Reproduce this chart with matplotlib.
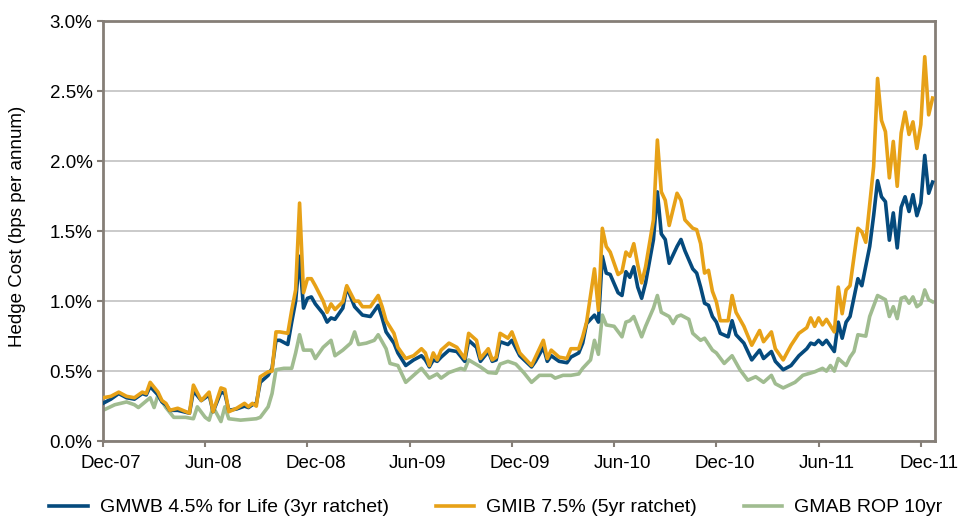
import matplotlib
matplotlib.use('agg')
import matplotlib.pyplot as plt
import matplotlib.transforms as mtransforms
from matplotlib.ticker import FuncFormatter, MultipleLocator

plt.rcParams['font.family'] = ['Liberation Sans', 'DejaVu Sans']

# weekly index (week 0 = first week of Dec-07), values in % per annum
gmib_weeks = [0, 2, 4, 6, 8, 10, 11, 12, 14, 15, 16, 17, 19, 22, 23, 25, 27, 28, 30, 31,
              32, 34, 36, 37, 38, 39, 40, 42, 43, 44, 45, 47, 48, 49, 50, 51, 52, 53, 54, 56,
              57, 58, 59, 61, 62, 64, 65, 66, 68, 70, 71, 72, 74, 75, 77, 79, 81, 82, 83, 84,
              85, 86, 88, 90, 92, 93, 95, 96, 98, 99, 100, 101, 103, 104, 106, 109, 110, 112, 113, 114,
              116, 118, 119, 121, 122, 123, 125, 126, 127, 128, 129, 131, 132, 133, 134, 135, 136, 137, 138, 140,
              141, 142, 143, 144, 146, 147, 148, 150, 151, 152, 153, 154, 155, 156, 157, 159, 160, 161, 163, 165,
              167, 168, 170, 171, 173, 175, 177, 179, 180, 181, 182, 183, 184, 186, 187, 188, 189, 190, 192, 193,
              194, 196, 197, 198, 199, 200, 201, 202, 203, 204, 205, 206, 207, 208, 209, 210, 211]
gmib = [0.31, 0.32, 0.35, 0.32, 0.31, 0.35, 0.34, 0.42, 0.35, 0.29, 0.27, 0.22, 0.235, 0.20, 0.40, 0.29, 0.35, 0.21, 0.38, 0.37,
        0.21, 0.235, 0.27, 0.245, 0.27, 0.25, 0.46, 0.495, 0.50, 0.78, 0.78, 0.77, 0.935, 1.08, 1.70, 1.06, 1.16, 1.16, 1.11, 1.00,
        0.92, 0.98, 0.94, 0.995, 1.11, 1.00, 1.00, 0.96, 0.96, 1.04, 0.96, 0.86, 0.77, 0.67, 0.59, 0.61, 0.66, 0.63, 0.54, 0.63,
        0.58, 0.65, 0.70, 0.67, 0.59, 0.77, 0.72, 0.59, 0.66, 0.58, 0.60, 0.77, 0.735, 0.78, 0.63, 0.54, 0.60, 0.72, 0.59, 0.65,
        0.60, 0.59, 0.66, 0.66, 0.745, 0.85, 1.23, 0.935, 1.52, 1.39, 1.35, 1.19, 1.21, 1.35, 1.32, 1.41, 1.26, 1.13, 1.245, 1.58,
        2.15, 1.78, 1.72, 1.54, 1.77, 1.72, 1.58, 1.52, 1.51, 1.41, 1.20, 1.22, 1.07, 0.995, 0.86, 0.86, 1.04, 0.92, 0.82, 0.685,
        0.79, 0.71, 0.78, 0.66, 0.58, 0.685, 0.77, 0.81, 0.88, 0.82, 0.88, 0.83, 0.87, 0.78, 1.10, 0.91, 1.08, 1.11, 1.52, 1.495,
        1.42, 1.96, 2.59, 2.29, 2.21, 1.88, 2.14, 1.82, 2.20, 2.35, 2.19, 2.28, 2.09, 2.26, 2.745, 2.33, 2.45]

gmwb_weeks = [0, 2, 4, 6, 8, 10, 11, 12, 14, 15, 16, 17, 19, 22, 23, 25, 27, 28, 30, 31,
              32, 34, 36, 37, 38, 39, 40, 42, 43, 44, 45, 47, 48, 49, 50, 51, 52, 53, 54, 56,
              57, 58, 59, 61, 62, 64, 65, 66, 68, 70, 71, 72, 74, 75, 77, 79, 81, 82, 83, 84,
              85, 86, 88, 90, 92, 93, 95, 96, 98, 99, 100, 101, 103, 104, 106, 109, 110, 112, 113, 114,
              116, 118, 119, 121, 122, 123, 125, 126, 127, 128, 129, 131, 132, 133, 134, 135, 136, 137, 138, 140,
              141, 142, 143, 144, 146, 147, 148, 150, 151, 152, 153, 154, 155, 156, 157, 159, 160, 161, 163, 165,
              167, 168, 170, 171, 173, 175, 177, 179, 180, 181, 182, 183, 184, 186, 187, 188, 189, 190, 192, 193,
              195, 196, 197, 198, 199, 200, 201, 202, 203, 204, 205, 206, 207, 208, 209, 210, 211]
gmwb = [0.27, 0.30, 0.34, 0.31, 0.30, 0.34, 0.33, 0.39, 0.33, 0.28, 0.26, 0.22, 0.22, 0.20, 0.36, 0.29, 0.33, 0.21, 0.35, 0.34,
        0.22, 0.23, 0.25, 0.24, 0.26, 0.27, 0.42, 0.47, 0.52, 0.72, 0.72, 0.69, 0.85, 1.00, 1.32, 0.95, 1.02, 1.03, 0.98, 0.91,
        0.85, 0.88, 0.87, 0.95, 1.10, 0.96, 0.93, 0.90, 0.89, 0.97, 0.88, 0.78, 0.70, 0.63, 0.54, 0.58, 0.61, 0.58, 0.53, 0.58,
        0.57, 0.60, 0.65, 0.64, 0.57, 0.72, 0.67, 0.57, 0.64, 0.57, 0.58, 0.71, 0.69, 0.72, 0.61, 0.53, 0.57, 0.67, 0.57, 0.61,
        0.57, 0.56, 0.60, 0.63, 0.70, 0.84, 0.90, 0.85, 1.32, 1.20, 1.19, 1.06, 1.04, 1.21, 1.17, 1.245, 1.10, 1.02, 1.13, 1.44,
        1.78, 1.48, 1.44, 1.27, 1.39, 1.44, 1.36, 1.23, 1.20, 1.10, 0.985, 0.97, 0.89, 0.85, 0.77, 0.745, 0.86, 0.76, 0.70, 0.58,
        0.65, 0.59, 0.64, 0.57, 0.51, 0.54, 0.61, 0.66, 0.70, 0.69, 0.72, 0.69, 0.72, 0.64, 0.85, 0.735, 0.85, 0.89, 1.16, 1.11,
        1.39, 1.61, 1.86, 1.745, 1.71, 1.435, 1.63, 1.38, 1.67, 1.745, 1.64, 1.76, 1.61, 1.70, 2.04, 1.77, 1.85]

gmab_weeks = [0, 3, 6, 8, 9, 12, 13, 14, 16, 18, 21, 23, 24, 26, 27, 28, 30, 31, 32, 35,
              39, 40, 42, 43, 44, 46, 48, 49, 50, 51, 53, 54, 56, 58, 59, 61, 63, 64, 65, 67,
              69, 70, 72, 73, 75, 77, 79, 81, 83, 85, 86, 88, 91, 92, 93, 96, 98, 100, 101, 103,
              105, 107, 109, 111, 114, 115, 117, 119, 121, 122, 124, 125, 126, 127, 128, 130, 132, 133, 134, 135,
              137, 138, 140, 141, 142, 144, 145, 146, 147, 149, 150, 152, 153, 155, 156, 158, 160, 162, 164, 166,
              168, 170, 171, 173, 176, 178, 181, 183, 184, 185, 186, 187, 189, 190, 191, 192, 194, 195, 197, 199,
              200, 201, 202, 203, 204, 205, 206, 207, 208, 209, 210, 211]
gmab = [0.22, 0.26, 0.28, 0.26, 0.24, 0.31, 0.24, 0.33, 0.24, 0.17, 0.17, 0.16, 0.245, 0.17, 0.15, 0.245, 0.14, 0.245, 0.16, 0.15,
        0.16, 0.17, 0.245, 0.34, 0.51, 0.52, 0.52, 0.63, 0.76, 0.65, 0.65, 0.59, 0.67, 0.72, 0.61, 0.65, 0.70, 0.78, 0.69, 0.70,
        0.72, 0.76, 0.66, 0.555, 0.54, 0.42, 0.47, 0.52, 0.45, 0.48, 0.45, 0.49, 0.52, 0.51, 0.58, 0.53, 0.49, 0.485, 0.55, 0.57,
        0.55, 0.49, 0.42, 0.47, 0.47, 0.45, 0.47, 0.47, 0.48, 0.52, 0.58, 0.72, 0.62, 0.90, 0.83, 0.82, 0.745, 0.85, 0.86, 0.89,
        0.745, 0.82, 0.95, 1.04, 0.92, 0.89, 0.84, 0.89, 0.90, 0.87, 0.77, 0.72, 0.735, 0.65, 0.63, 0.555, 0.61, 0.51, 0.435, 0.46,
        0.42, 0.47, 0.41, 0.38, 0.42, 0.47, 0.495, 0.52, 0.50, 0.54, 0.50, 0.59, 0.54, 0.60, 0.64, 0.76, 0.75, 0.89, 1.04, 1.01,
        0.89, 0.96, 0.875, 1.02, 1.03, 0.985, 1.03, 0.96, 0.98, 1.08, 1.01, 0.995]

tick_weeks = [0, 26, 52, 78, 104, 130, 156, 182, 208]
tick_labels = ['Dec-07', 'Jun-08', 'Dec-08', 'Jun-09', 'Dec-09', 'Jun-10', 'Dec-10', 'Jun-11', 'Dec-11']

blue = '#054a7d'
orange = '#e7a117'
green = '#a0bc90'
axis_grey = '#857e77'

fig = plt.figure(figsize=(9.78, 5.19), dpi=100)
ax = fig.add_axes([0.1053, 0.150, 0.8507, 0.8095])

ax.plot(gmwb_weeks, gmwb, color=blue, lw=2.6, label='GMWB 4.5% for Life (3yr ratchet)', zorder=3)
ax.plot(gmib_weeks, gmib, color=orange, lw=2.6, label='GMIB 7.5% (5yr ratchet)', zorder=4)
ax.plot(gmab_weeks, gmab, color=green, lw=2.6, label='GMAB ROP 10yr', zorder=2)

ax.set_xlim(0, 211.6)
ax.set_ylim(0, 3.0)
ax.yaxis.set_major_locator(MultipleLocator(0.5))
ax.yaxis.set_major_formatter(FuncFormatter(lambda v, p: f'{v:.1f}%'))
ax.set_xticks(tick_weeks)
ax.set_xticklabels(tick_labels)

ax.grid(axis='y', color='#cacaca', lw=1.4)
ax.set_axisbelow(True)
for s in ax.spines.values():
    s.set_color(axis_grey)
    s.set_linewidth(2)
ax.tick_params(axis='both', colors=axis_grey, width=1.5, length=4, labelcolor='black', labelsize=13.5)
ax.tick_params(axis='x', pad=6)

# labels sit a little right of the tick marks, as in the original
offset = mtransforms.ScaledTranslation(0.08, 0, fig.dpi_scale_trans)
for lab in ax.get_xticklabels():
    lab.set_transform(lab.get_transform() + offset)

fig.text(0.0184, 0.563, 'Hedge Cost (bps per annum)', rotation=90,
         ha='center', va='center', fontsize=13.5)

fig.legend(loc='center', bbox_to_anchor=(0.507, 0.022), ncol=3, frameon=False,
           fontsize=14, handlelength=2.0, columnspacing=2.4, handletextpad=0.6)

fig.savefig('out.png', dpi=100)
